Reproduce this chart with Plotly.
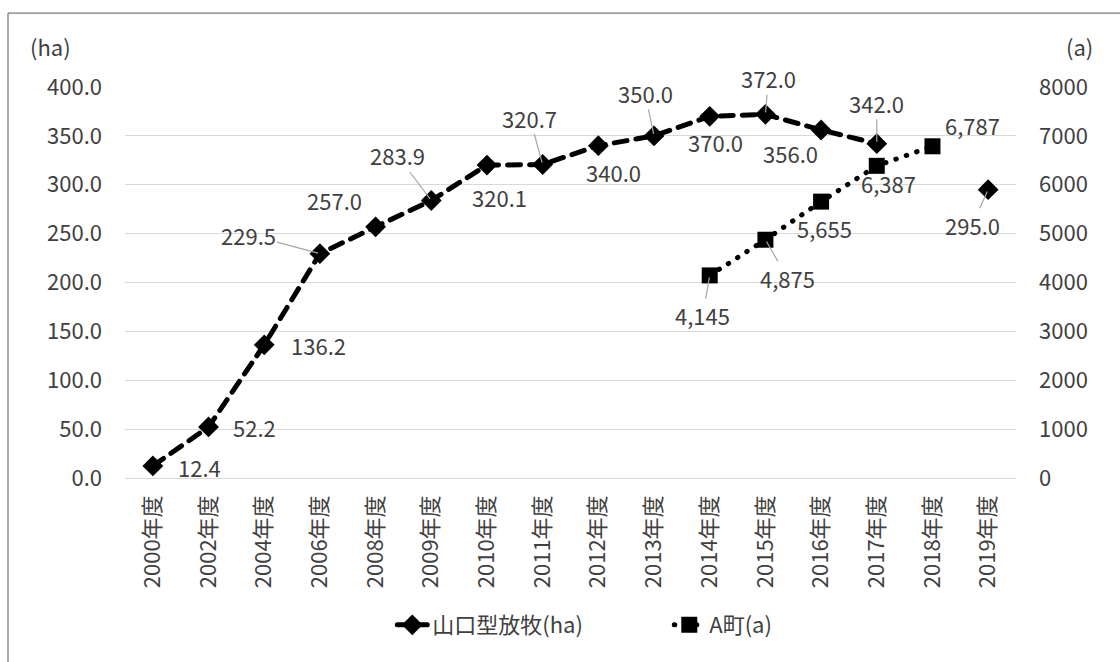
import plotly.graph_objects as go

# 年度 categories
years = ["2000年度", "2002年度", "2004年度", "2006年度", "2008年度", "2009年度",
         "2010年度", "2011年度", "2012年度", "2013年度", "2014年度", "2015年度",
         "2016年度", "2017年度", "2018年度", "2019年度"]

# 山口型放牧 area (ha), left axis; 2018 not reported
yamaguchi_ha = [12.4, 52.2, 136.2, 229.5, 257.0, 283.9, 320.1, 320.7, 340.0,
                350.0, 370.0, 372.0, 356.0, 342.0, None, 295.0]

# A町 area (a), right axis; reported from 2014
town_a = [None, None, None, None, None, None, None, None, None, None,
          4145, 4875, 5655, 6387, 6787, None]

# label placement (pixel offsets from the point) and whether a leader line is drawn
ha_label_pos = [(47, 1, False), (46, 0, False), (54, 0, False), (-71, -19, True),
                (-41, -27, False), (-34, -45, True), (13, 32, False), (-13, -47, True),
                (15, 26, False), (-9, -43, True), (6, 26, False), (3, -36, True),
                (-31, 23, False), (0, -41, True), None, (-16, 35, True)]
a_label_pos = [None] * 10 + [(-7, 40, True), (22, 38, True), (3, 26, False),
                             (12, 17, False), (40, -21, False)]

FONT = "Noto Sans CJK JP, Noto Sans, sans-serif"
TXT = "#404040"
GRID = "#d9d9d9"
FS = 22

fig = go.Figure()
fig.add_trace(go.Scatter(
    x=years, y=yamaguchi_ha, name="山口型放牧(ha)", mode="lines+markers",
    line=dict(color="black", width=5, dash="13px,9px"),
    marker=dict(symbol="diamond", size=16, color="black"),
    connectgaps=False, yaxis="y",
))
fig.add_trace(go.Scatter(
    x=years, y=town_a, name="A町(a)", mode="lines+markers",
    line=dict(color="black", width=5, dash="0.5px,10.5px"),
    marker=dict(symbol="square", size=16, color="black"),
    connectgaps=False, yaxis="y2",
))

annotations = []


def add_labels(values, positions, yref, fmt):
    for cat, v, pos in zip(years, values, positions):
        if v is None or pos is None:
            continue
        dx, dy, leader = pos
        common = dict(x=cat, y=v, xref="x", yref=yref, text=fmt(v),
                      font=dict(family=FONT, size=FS, color=TXT))
        if leader:
            annotations.append(dict(**common, showarrow=True, ax=dx, ay=dy,
                                    arrowhead=0, arrowwidth=1.2,
                                    arrowcolor="#a6a6a6", standoff=2, borderpad=0))
        else:
            annotations.append(dict(**common, showarrow=False, xshift=dx, yshift=-dy))


add_labels(yamaguchi_ha, ha_label_pos, "y", lambda v: f"{v:.1f}")
add_labels(town_a, a_label_pos, "y2", lambda v: f"{v:,.0f}")

# axis unit captions
annotations.append(dict(text="(ha)", xref="paper", yref="paper", x=-0.084, y=1.104,
                        xanchor="center", yanchor="middle", showarrow=False,
                        font=dict(family=FONT, size=FS, color=TXT)))
annotations.append(dict(text="(a)", xref="paper", yref="paper", x=1.071, y=1.104,
                        xanchor="center", yanchor="middle", showarrow=False,
                        font=dict(family=FONT, size=FS, color=TXT)))

fig.update_layout(
    width=1120, height=662,
    margin=dict(l=125, r=104, t=87, b=184),
    paper_bgcolor="white", plot_bgcolor="white",
    font=dict(family=FONT, size=FS, color=TXT),
    showlegend=True,
    legend=dict(orientation="h", x=0.30, xanchor="left", y=-0.376, yanchor="middle",
                font=dict(family=FONT, size=FS, color=TXT),
                entrywidth=232, entrywidthmode="pixels",
                bgcolor="rgba(0,0,0,0)"),
    xaxis=dict(type="category", categoryorder="array", categoryarray=years,
               range=[-0.5, len(years) - 0.5], autorange=False,
               tickangle=-90, showgrid=False, showline=False, ticks="",
               ticklabelstandoff=12, tickfont=dict(family=FONT, size=FS, color=TXT)),
    yaxis=dict(range=[0, 400], autorange=False, dtick=50, tickformat=".1f",
               showgrid=True, gridcolor=GRID, gridwidth=1, zeroline=True,
               zerolinecolor=GRID, zerolinewidth=1, showline=False, ticks="",
               ticklabelstandoff=22, tickfont=dict(family=FONT, size=FS, color=TXT)),
    yaxis2=dict(range=[0, 8000], autorange=False, dtick=1000, tickformat="d",
                overlaying="y", side="right", showgrid=False, zeroline=False,
                showline=False, ticks="", ticklabelstandoff=22,
                tickfont=dict(family=FONT, size=FS, color=TXT)),
    annotations=annotations,
    shapes=[dict(type="rect", xref="paper", yref="paper",
                 x0=-0.1313, x1=1.13, y0=-0.5, y1=1.189,
                 line=dict(color="#595959", width=1), fillcolor="rgba(0,0,0,0)",
                 layer="below")],
)

# round line caps so the dash/dot patterns look like the original strokes
round_caps = ("document.querySelectorAll('.js-line').forEach(function(p){"
              "p.style.strokeLinecap='round';});")
fig.write_html("out.html", post_script=round_caps)
